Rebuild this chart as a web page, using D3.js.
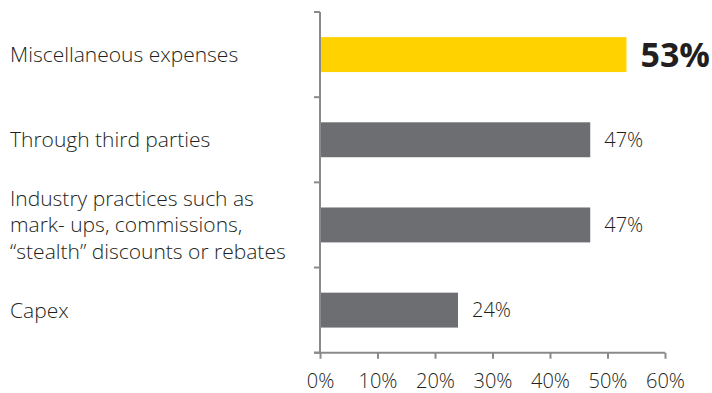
<!DOCTYPE html>
<html>
<head>
<meta charset="utf-8">
<script src="https://cdn.jsdelivr.net/npm/d3@7"></script>
<style>
  body { margin: 0; background: #fff; }
  text { font-family: "Open Sans", sans-serif; font-weight: 300; fill: #231f20; }
</style>
</head>
<body>
<div id="chart"></div>
<script>
// Data
var categories = [
  ['Miscellaneous expenses'],
  ['Through third parties'],
  ['Industry practices such as', 'mark- ups, commissions,', '\u201cstealth\u201d discounts or rebates'],
  ['Capex']
]
var values = [0.533, 0.47, 0.47, 0.24]
var highlight = [true, false, false, false]
var xTicks = [0, 0.1, 0.2, 0.3, 0.4, 0.5, 0.6]

var width = 712
var height = 393
var margin = { top: 12, left: 320, right: 47, bottom: 40 }

var svg = d3.select('#chart')
  .append('svg')
  .attr('width', width)
  .attr('height', height)

var xPositionScale = d3.scaleLinear()
  .domain([0, 0.6])
  .range([margin.left, width - margin.right])

var yPositionScale = d3.scaleBand()
  .domain(d3.range(categories.length))
  .range([margin.top, height - margin.bottom - 0.3])
  .paddingInner(0.59)
  .paddingOuter(0.295)

var axisColor = '#8a8a8a'

// x axis
var xAxis = d3.axisBottom(xPositionScale)
  .tickValues(xTicks)
  .tickFormat(d3.format('.0%'))
  .tickSize(6)
  .tickSizeOuter(0)

var xg = svg.append('g')
  .attr('transform', `translate(0, ${yPositionScale.range()[1]})`)
  .call(xAxis)
xg.select('.domain').remove()
xg.append('line')
  .attr('x1', margin.left - 6)
  .attr('x2', xPositionScale(0.6))
  .attr('stroke', axisColor)
  .attr('stroke-width', 2)
xg.selectAll('.tick line').attr('stroke', axisColor).attr('stroke-width', 2)
xg.selectAll('.tick text')
  .attr('font-size', 20)
  .attr('dy', 0)
  .attr('y', 35.5)
  .attr('fill', '#231f20')

// y axis with ticks between categories
var step = yPositionScale.step()
var y0 = yPositionScale.range()[0]
var yg = svg.append('g')
yg.append('line')
  .attr('x1', margin.left)
  .attr('x2', margin.left)
  .attr('y1', y0)
  .attr('y2', yPositionScale.range()[1])
  .attr('stroke', axisColor)
  .attr('stroke-width', 2)
yg.selectAll('.ytick')
  .data(d3.range(categories.length + 1))
  .enter()
  .append('line')
  .attr('class', 'ytick')
  .attr('x1', margin.left - 6)
  .attr('x2', margin.left)
  .attr('y1', d => y0 + d * step)
  .attr('y2', d => y0 + d * step)
  .attr('stroke', axisColor)
  .attr('stroke-width', 2)

// bars
svg.selectAll('.bar')
  .data(values)
  .enter()
  .append('rect')
  .attr('class', 'bar')
  .attr('x', xPositionScale(0) + 1)
  .attr('y', (d, i) => yPositionScale(i))
  .attr('width', d => xPositionScale(d) - xPositionScale(0) - 1)
  .attr('height', yPositionScale.bandwidth())
  .attr('fill', (d, i) => highlight[i] ? '#ffd200' : '#6d6e71')

// value labels
svg.selectAll('.value')
  .data(values)
  .enter()
  .append('text')
  .attr('class', 'value')
  .attr('x', (d, i) => xPositionScale(d) + 14)
  .attr('y', (d, i) => yPositionScale(i) + yPositionScale.bandwidth() / 2)
  .attr('dy', '0.36em')
  .attr('font-size', (d, i) => highlight[i] ? 34 : 20)
  .style('font-weight', (d, i) => highlight[i] ? 700 : 300)
  .text(d => Math.round(d * 100) + '%')

// category labels
svg.selectAll('.cat')
  .data(categories)
  .enter()
  .append('text')
  .attr('class', 'cat')
  .attr('font-size', 21)
  .attr('x', 10)
  .attr('y', (d, i) => yPositionScale(i) + yPositionScale.bandwidth() / 2)
  .each(function(lines) {
    var t = d3.select(this)
    var lh = 26.5
    lines.forEach(function(line, j) {
      t.append('tspan')
        .attr('x', 10)
        .attr('dy', j === 0 ? ((0.36 * 21) - (lines.length - 1) * lh / 2) : lh)
        .text(line)
    })
  })
</script>
</body>
</html>
